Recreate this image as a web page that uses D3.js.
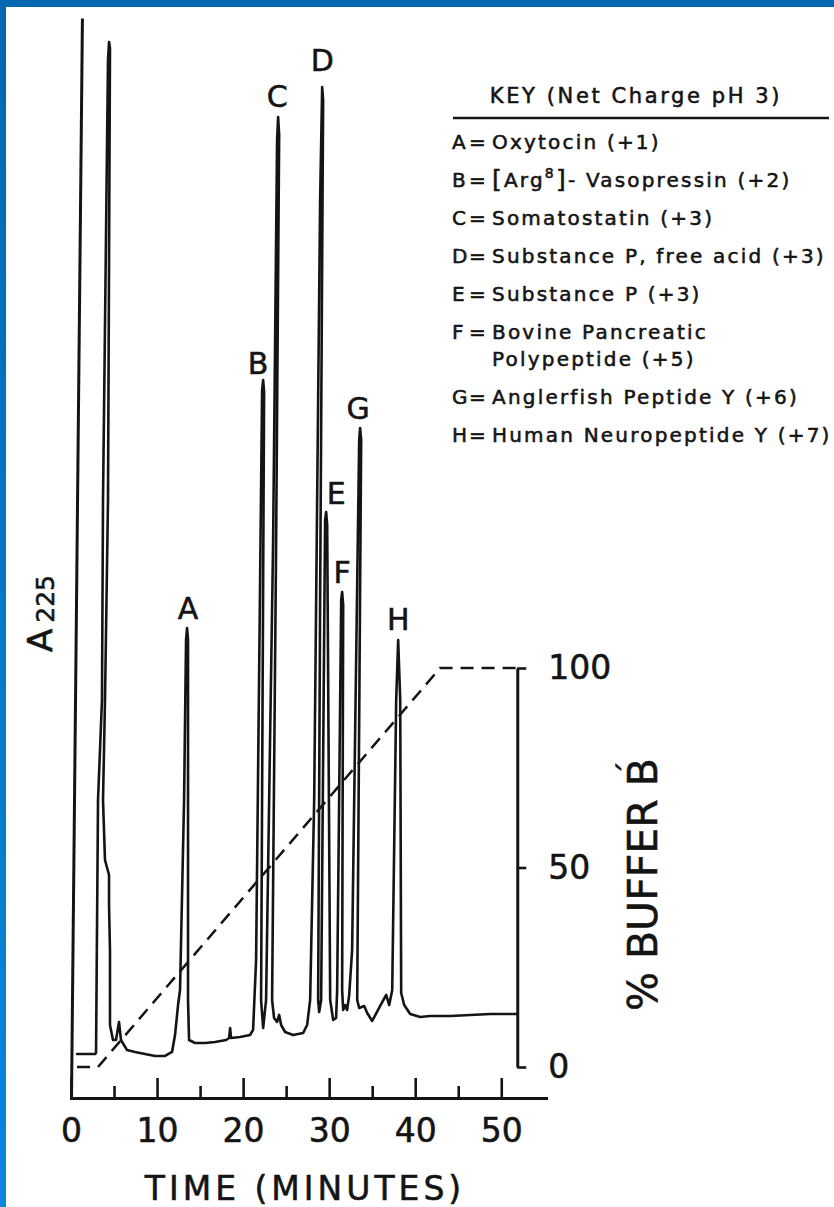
<!DOCTYPE html>
<html>
<head>
<meta charset="utf-8">
<script src="https://cdn.jsdelivr.net/npm/d3@7"></script>
<style>
  body { margin: 0; background: #fff; }
  svg text { font-family: "DejaVu Sans", sans-serif; fill: #141414; stroke: #141414; stroke-width: 0.55px; }
</style>
</head>
<body>
<div id="chart"></div>
<script>
// ---- data ----
// detector trace: time (min) and relative A225
var traceTime = [0.70, 2.79, 2.91, 3.14, 3.60, 3.72, 4.30, 4.42, 4.53, 4.30, 3.95, 3.72, 3.95, 4.42, 4.42, 4.53, 4.53, 4.88, 5.23, 5.58,
  5.81, 6.51, 7.44, 8.60, 9.77, 10.93, 11.74, 12.09, 12.44, 12.67, 13.14, 13.37, 13.49, 13.60, 13.60, 13.72, 14.42, 15.58, 16.74, 18.02,
  18.37, 18.49, 18.60, 19.65, 20.81, 21.16, 21.51, 22.21, 22.33, 22.44, 22.09, 22.33, 22.67, 23.49, 23.95, 24.07, 24.19, 23.84, 23.37, 23.60,
  23.95, 24.19, 24.42, 24.88, 25.81, 26.98, 27.44, 27.79, 28.26, 28.95, 29.19, 29.30, 28.95, 28.72, 28.84, 29.07, 29.53, 29.65, 29.77, 30.12,
  30.47, 30.81, 30.93, 31.40, 31.51, 31.63, 31.51, 31.63, 31.86, 32.09, 32.33, 32.67, 33.49, 33.60, 33.72, 33.26, 33.49, 34.07, 34.42, 35.00,
  35.93, 36.63, 36.98, 37.33, 37.79, 38.02, 38.26, 38.37, 38.72, 39.42, 40.58, 41.74, 44.07, 46.40, 48.72, 51.86];
var traceAbs = [4.07, 4.07, 4.17, 27.59, 36.85, 55.37, 96.11, 97.78, 97.22, 55.37, 36.85, 27.59, 22.04, 20.65, 17.87, 13.70, 6.76, 5.37, 5.37, 7.04,
  5.37, 4.44, 4.26, 4.07, 3.89, 3.89, 4.26, 5.83, 8.61, 10.00, 27.59, 42.41, 43.52, 42.41, 9.07, 5.37, 5.09, 5.09, 5.19, 5.37,
  5.56, 6.48, 5.56, 5.65, 5.83, 6.30, 12.78, 65.56, 66.48, 65.37, 9.07, 6.48, 9.07, 51.67, 88.70, 90.83, 89.17, 51.67, 9.07, 7.41,
  7.04, 7.69, 6.76, 6.11, 5.83, 6.02, 6.76, 9.07, 27.59, 83.15, 93.61, 92.41, 46.11, 9.07, 7.96, 9.07, 53.52, 54.26, 53.06, 9.07,
  7.22, 7.41, 10.00, 46.11, 46.85, 45.65, 10.00, 8.15, 8.61, 8.15, 9.54, 13.70, 60.93, 62.04, 60.93, 9.07, 8.33, 8.52, 7.87, 7.13,
  8.52, 9.54, 8.61, 10.00, 36.85, 42.41, 36.85, 9.72, 8.61, 7.78, 7.50, 7.59, 7.59, 7.69, 7.78, 7.78];

// gradient programme (% buffer B)
var gradTime = [0.70, 3.14, 42.9, 51.86];
var gradPct = [0, 0, 100, 100];

// peak labels at the apex of each peak
var peakNames = ["A", "B", "C", "D", "E", "F", "G", "H"];
var peakTime = [13.49, 22.33, 24.07, 29.19, 29.65, 31.51, 33.60, 38.02];
var peakAbs = [43.52, 66.48, 90.83, 93.61, 54.26, 46.85, 62.04, 42.41];

// axis ticks
var timeMajorTicks = [0, 10, 20, 30, 40, 50];
var timeMinorTicks = [5, 15, 25, 35, 45];
var bufferTicks = [0, 50, 100];

// key
var keyLetters = ["A", "B", "C", "D", "E", "F", "G", "H"];
var keyNames = ["Oxytocin", "[Arg^8]- Vasopressin", "Somatostatin", "Substance P, free acid", "Substance P",
  "Bovine Pancreatic|Polypeptide", "Anglerfish Peptide Y", "Human Neuropeptide Y"];
var keyCharges = ["+1", "+2", "+3", "+3", "+3", "+5", "+6", "+7"];

// label nudges (px) relative to the apex
var labelNudge = [[1, -20], [-5, -17], [-1, -21], [0, -27], [10, -19], [0, -20], [-2, -20], [0, -21]];

var svgWidth = 834;
var svgHeight = 1207;
var ink = "#141414";

var svg = d3.select("#chart")
  .append("svg")
  .attr("width", svgWidth)
  .attr("height", svgHeight);

// blue scan frame
var grad = svg.append("defs").append("linearGradient")
  .attr("id", "edge").attr("x1", 0).attr("y1", 0).attr("x2", 0).attr("y2", 1);
grad.append("stop").attr("offset", "0%").attr("stop-color", "#0067b0");
grad.append("stop").attr("offset", "100%").attr("stop-color", "#0a86de");
svg.append("rect").attr("x", 0).attr("y", 0).attr("width", svgWidth).attr("height", 7).attr("fill", "#0067b0");
svg.append("rect").attr("x", 0).attr("y", 0).attr("width", 6).attr("height", svgHeight).attr("fill", "url(#edge)");

// scales
var x = d3.scaleLinear().domain([0, 55.2]).range([71, 546]);
var yA = d3.scaleLinear().domain([0, 100]).range([1098, 18]);
var yB = d3.scaleLinear().domain([0, 100]).range([1067, 668]);

function styleAxis(g, size) {
  g.attr("font-family", null).attr("font-size", size);
  g.selectAll(".domain").attr("stroke", ink).attr("stroke-width", 3);
  g.selectAll(".tick line").attr("stroke", ink).attr("stroke-width", 2.6);
  g.selectAll(".tick text").attr("fill", ink);
}

// left (A225) axis, leaning slightly like the hand-ruled original
var yAxisG = svg.append("g")
  .attr("transform", `translate(${x(0)},1098) skewX(-0.58) translate(0,-1098)`)
  .call(d3.axisLeft(yA).tickValues([]).tickSizeOuter(0));
styleAxis(yAxisG, 30);

// time axis with inward ticks
var xAxisG = svg.append("g")
  .attr("transform", `translate(0,${yA(0)})`)
  .call(d3.axisBottom(x).tickValues(timeMajorTicks).tickSizeInner(-20).tickSizeOuter(0).tickPadding(21).tickFormat(d3.format("d")));
styleAxis(xAxisG, 33);
xAxisG.selectAll(".domain").attr("stroke-linecap", "square");

var xMinorG = svg.append("g")
  .attr("transform", `translate(0,${yA(0)})`)
  .call(d3.axisBottom(x).tickValues(timeMinorTicks).tickSizeInner(-12).tickSizeOuter(0).tickFormat(""));
xMinorG.select(".domain").remove();
styleAxis(xMinorG, 10);

// % buffer B axis on the right
var rightAxisG = svg.append("g")
  .attr("transform", `translate(${x(traceTime[traceTime.length - 1])},0)`)
  .call(d3.axisRight(yB).tickValues(bufferTicks).tickSizeInner(9).tickSizeOuter(0).tickPadding(22));
styleAxis(rightAxisG, 33);

// gradient, dashed
svg.append("path")
  .datum(d3.range(gradTime.length))
  .attr("fill", "none")
  .attr("stroke", ink)
  .attr("stroke-width", 2.5)
  .attr("stroke-dasharray", "13,8")
  .attr("d", d3.line().x(i => x(gradTime[i])).y(i => yB(gradPct[i])));

// chromatogram trace
svg.append("path")
  .datum(d3.range(traceTime.length))
  .attr("fill", "none")
  .attr("stroke", ink)
  .attr("stroke-width", 2.6)
  .attr("stroke-linejoin", "round")
  .attr("stroke-linecap", "round")
  .attr("d", d3.line().x(i => x(traceTime[i])).y(i => yA(traceAbs[i])));

// peak letters
svg.selectAll(".peak-label")
  .data(peakNames)
  .join("text")
  .attr("class", "peak-label")
  .attr("x", (d, i) => x(peakTime[i]) + labelNudge[i][0])
  .attr("y", (d, i) => yA(peakAbs[i]) + labelNudge[i][1])
  .attr("dy", "0.36em")
  .attr("text-anchor", "middle")
  .attr("font-size", 30)
  .text(d => d);

// axis titles
svg.append("text")
  .attr("x", 305)
  .attr("y", 1200)
  .attr("text-anchor", "middle")
  .attr("font-size", 33)
  .attr("letter-spacing", 4)
  .text("TIME (MINUTES)");

var aTitle = svg.append("text")
  .attr("transform", "translate(52,652) rotate(-90)")
  .attr("font-size", 34);
aTitle.append("tspan").text("A");
aTitle.append("tspan").attr("font-size", 25).attr("dx", 6).attr("dy", 2).text("225");

svg.append("text")
  .attr("transform", "translate(657,1011) rotate(-90)")
  .attr("font-size", 41)
  .text("% BUFFER B");
svg.append("text")
  .attr("transform", "translate(640,776) rotate(-90)")
  .attr("font-size", 30)
  .text("\u00B4");

// key
var keyG = svg.append("g");
keyG.append("text")
  .attr("x", 636)
  .attr("y", 103)
  .attr("text-anchor", "middle")
  .attr("font-size", 21)
  .attr("letter-spacing", 2.6)
  .text("KEY (Net Charge pH 3)");
keyG.append("line")
  .attr("x1", 453).attr("x2", 829)
  .attr("y1", 118).attr("y2", 118)
  .attr("stroke", ink).attr("stroke-width", 2.5);

var rowY = 149;
keyLetters.forEach(function(letter, i) {
  keyG.append("text").attr("x", 452).attr("y", rowY).attr("font-size", 20).text(letter);
  keyG.append("text").attr("x", 469).attr("y", rowY).attr("font-size", 20).text("=");
  var lines = keyNames[i].split("|");
  lines.forEach(function(line, j) {
    var isLast = j === lines.length - 1;
    var t = keyG.append("text")
      .attr("x", 492)
      .attr("y", rowY)
      .attr("font-size", 20)
      .attr("letter-spacing", 2.2);
    var parts = line.split("^");
    if (parts.length > 1) {
      // [Arg^8]-...  : bracket + superscript
      t.append("tspan").attr("font-size", 25).attr("dy", 1).text("[");
      t.append("tspan").attr("dy", -1).text(parts[0].slice(1));
      t.append("tspan").attr("font-size", 14).attr("dy", -9).text(parts[1].charAt(0));
      t.append("tspan").attr("font-size", 25).attr("dy", 10).text("]");
      t.append("tspan").attr("dy", -1).text(parts[1].slice(2) + " (" + keyCharges[i] + ")");
    } else {
      t.text(isLast ? line + " (" + keyCharges[i] + ")" : line);
    }
    if (!isLast) rowY += 27;
  });
  rowY += 38;
});
</script>
</body>
</html>
